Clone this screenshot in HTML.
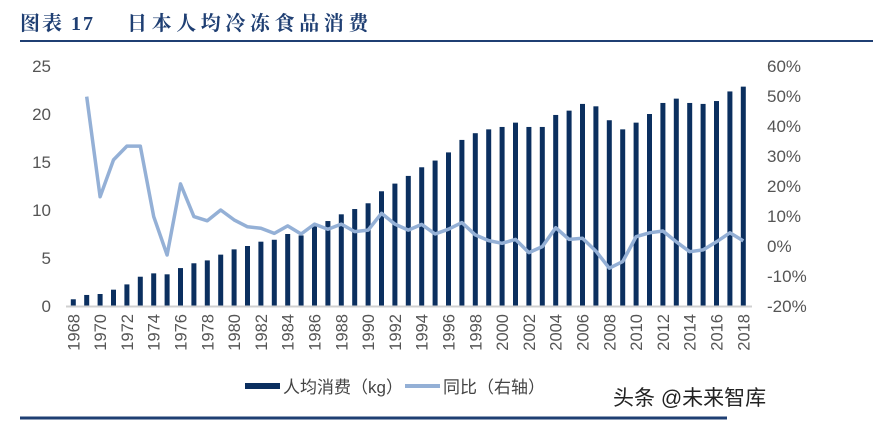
<!DOCTYPE html>
<html><head><meta charset="utf-8">
<style>
body{margin:0;background:#fff;width:873px;height:421px;overflow:hidden;font-family:"Liberation Sans","Noto Sans CJK SC",sans-serif;}
</style></head>
<body>
<svg width="873" height="421" xmlns="http://www.w3.org/2000/svg">
<text x="20" y="30" font-family="'Liberation Serif','Noto Serif CJK SC',serif" font-weight="bold" font-size="20" fill="#1f3f73"><tspan letter-spacing="2">图表 17</tspan><tspan x="127" letter-spacing="4.6">日本人均冷冻食品消费</tspan></text>
<line x1="20" y1="41" x2="873" y2="41" stroke="#1f3f73" stroke-width="2"/>
<line x1="20" y1="418" x2="727" y2="418" stroke="#1f3f73" stroke-width="3"/>
<g id="plot"></g>
<g>
<rect x="245" y="383" width="35" height="6" fill="#0b2f5f"/>
<text x="283" y="393" font-size="17" fill="#444">人均消费（kg）</text>
<rect x="405" y="384" width="35" height="4" fill="#94b0d6"/>
<text x="443" y="393" font-size="17" fill="#444">同比（右轴）</text>
</g>
<text x="613" y="405" font-size="21" fill="#222">头条 @未来智库</text>
</svg>
<script>
const years=[];for(let y=1968;y<=2018;y++)years.push(y);
const consumption=[0.7,1.15,1.25,1.7,2.25,3.05,3.4,3.3,3.95,4.45,4.75,5.35,5.9,6.25,6.7,6.9,7.5,7.35,8.3,8.85,9.55,10.1,10.7,11.95,12.75,13.55,14.45,15.15,16,17.3,18,18.4,18.65,19.1,18.65,18.65,19.9,20.35,21.05,20.8,19.35,18.4,19.1,20,21.15,21.6,21.15,21.05,21.35,22.35,22.85];
const yoy=[null,49.8,16.4,28.7,33.3,33.3,9.8,-3,20.7,9.8,8.4,12,8.7,6.4,5.9,4.2,6.7,4,7.3,5.6,7.3,4.8,5.3,10.9,7.3,5.3,7.2,4,5.6,7.8,3.7,1.8,0.9,2.2,-2.2,-0.2,6.1,2.2,2.6,-1.7,-7.4,-5.2,3.1,4.4,5,1.4,-1.9,-1.3,1.4,4.4,1.7];
const leftTicks=[0,5,10,15,20,25];
const rightTicks=[-20,-10,0,10,20,30,40,50,60];
const NS="http://www.w3.org/2000/svg";
const g=document.getElementById('plot');
const x0=73.3,dx=13.4;
const xs=i=>x0+i*dx;
const yL=v=>306-v*9.6;
const yR=v=>246-v*3;
function mk(t,a){const e=document.createElementNS(NS,t);for(const k in a)e.setAttribute(k,a[k]);g.appendChild(e);return e;}
consumption.forEach((v,i)=>{
 const r=mk('rect',{x:xs(i)-2.5,y:yL(v),width:5,height:yL(0)-yL(v),fill:'#0b2f5f'});
 
 
});
const ax=mk('line',{x1:66,y1:306.5,x2:752,y2:306.5,stroke:'#d0d0d0','stroke-width':2});


let d='';yoy.forEach((v,i)=>{if(v===null)return;d+=(d?'L':'M')+xs(i).toFixed(1)+','+yR(v).toFixed(1);});
const p=mk('path',{d:d,fill:'none',stroke:'#94b0d6','stroke-width':3.5,'stroke-linejoin':'round'});


leftTicks.forEach(v=>{
 const t=mk('text',{x:51,y:yL(v)+6,'text-anchor':'end','font-size':17,fill:'#555'});t.textContent=v;
 
 
});
rightTicks.forEach(v=>{
 const t=mk('text',{x:767,y:yR(v)+6,'font-size':17,fill:'#555'});t.textContent=v+'%';
 
 
});
years.forEach((y,i)=>{if(y%2)return;
 const t=mk('text',{x:0,y:0,'text-anchor':'end','font-size':16.5,fill:'#555',transform:'translate('+(xs(i)+6)+',314) rotate(-90)'});t.textContent=y;
 
 
});
</script>
</body></html>
